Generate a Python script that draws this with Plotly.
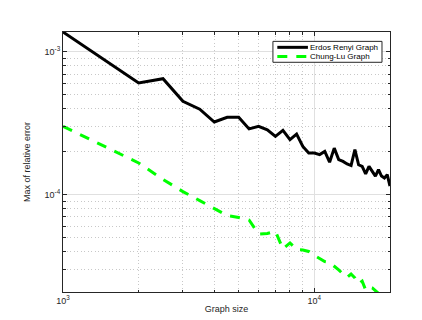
import plotly.graph_objects as go

graph_size = [1000, 2000, 2500, 3000, 3500, 4000, 4500, 5000, 5500, 6000, 6500,
              7000, 7500, 8000, 8500, 9000, 9500, 10000, 10500, 11000, 11500,
              12000, 12500, 13000, 13500, 14000, 14500, 15000, 15500, 16000,
              16500, 17000, 17500, 18000, 18500, 19000, 19500, 20000]

erdos_renyi = [1.38e-3, 6.06e-4, 6.50e-4, 4.51e-4, 3.97e-4, 3.23e-4, 3.49e-4,
               3.49e-4, 2.89e-4, 3.01e-4, 2.85e-4, 2.56e-4, 2.82e-4, 2.43e-4,
               2.66e-4, 2.18e-4, 1.96e-4, 1.96e-4, 1.91e-4, 2.01e-4, 1.69e-4,
               2.12e-4, 1.76e-4, 1.71e-4, 1.64e-4, 1.60e-4, 2.07e-4, 1.62e-4,
               1.58e-4, 1.40e-4, 1.58e-4, 1.47e-4, 1.35e-4, 1.50e-4, 1.35e-4,
               1.31e-4, 1.38e-4, 1.15e-4]

chung_lu = [3.015e-4, 1.668e-4, 1.280e-4, 1.051e-4, 9.08e-5, 8.02e-5, 7.15e-5,
            6.92e-5, 6.65e-5, 5.30e-5, 5.34e-5, 5.54e-5, 4.16e-5, 4.59e-5,
            4.12e-5, 4.10e-5, 4.00e-5, 3.75e-5, 3.56e-5, 3.40e-5, 3.35e-5,
            3.16e-5, 2.97e-5, 2.78e-5, 2.63e-5, 2.78e-5, 2.61e-5, 2.37e-5,
            2.48e-5, 2.15e-5, 2.25e-5, 2.22e-5, 2.11e-5, 2.01e-5, 1.95e-5,
            1.92e-5, 1.85e-5, 1.80e-5]

series_names = ["Erdos Renyi Graph", "Chung-Lu Graph"]
series_colors = ["black", "#00ff00"]

x_tickvals = [1e3, 1e4]
x_ticktext = ["10<sup>3</sup>", "10<sup>4</sup>"]
x_minorvals = [2e3, 3e3, 4e3, 5e3, 6e3, 7e3, 8e3, 9e3, 2e4]
y_tickvals = [1e-3, 1e-4]
y_ticktext = ["10<sup>-3</sup>", "10<sup>-4</sup>"]
y_minorvals = [2e-5, 3e-5, 4e-5, 5e-5, 6e-5, 7e-5, 8e-5, 9e-5,
               2e-4, 3e-4, 4e-4, 5e-4, 6e-4, 7e-4, 8e-4, 9e-4]

FONT = "Liberation Sans, Arial, sans-serif"
AX = "#262626"

fig = go.Figure()
fig.add_trace(go.Scatter(x=graph_size, y=erdos_renyi, mode="lines",
                         name=series_names[0], showlegend=False,
                         line=dict(color=series_colors[0], width=3)))
fig.add_trace(go.Scatter(x=graph_size, y=chung_lu, mode="lines",
                         name=series_names[1], showlegend=False,
                         line=dict(color=series_colors[1], width=3, dash="10px,9px")))

def axis_common(minorvals):
    return dict(showline=True, linecolor=AX, linewidth=1, mirror="allticks",
                ticks="inside", ticklen=4, tickcolor=AX,
                showgrid=True, gridcolor="#e0e0e0", gridwidth=1,
                zeroline=False,
                tickfont=dict(family=FONT, size=9, color=AX),
                minor=dict(tickmode="array", tickvals=minorvals,
                           showgrid=True, gridcolor="#c8c8c8", griddash="1px,2.5px",
                           gridwidth=1, ticks="inside", ticklen=2.5, tickcolor=AX))

fig.update_xaxes(type="log", range=[3, 4.30103], tickvals=x_tickvals,
                 ticktext=x_ticktext,
                 title=dict(text="Graph size", font=dict(family=FONT, size=9, color=AX),
                            standoff=0),
                 **axis_common(x_minorvals))
fig.update_yaxes(type="log", range=[-4.682, -2.86], tickvals=y_tickvals,
                 ticktext=y_ticktext,
                 title=dict(text="Max of relative error",
                            font=dict(family=FONT, size=9, color=AX), standoff=12),
                 **axis_common(y_minorvals))

# legend box drawn in paper coordinates (compact MATLAB-style legend)
lx0, lx1, ly0, ly1 = 0.642, 0.9755, 0.8835, 0.964
line_x0, line_x1 = 0.6554, 0.749
row_y = [0.941, 0.9058]
fig.add_shape(type="rect", xref="paper", yref="paper", x0=lx0, x1=lx1, y0=ly0, y1=ly1,
              line=dict(color=AX, width=1), fillcolor="white", layer="above")
for i, (nm, col) in enumerate(zip(series_names, series_colors)):
    fig.add_shape(type="line", xref="paper", yref="paper", x0=line_x0, x1=line_x1,
                  y0=row_y[i], y1=row_y[i], layer="above",
                  line=dict(color=col, width=3, dash="solid" if i == 0 else "10px,9px"))
    fig.add_annotation(x=line_x1, y=row_y[i], xref="paper", yref="paper",
                       text=nm, showarrow=False, xanchor="left", yanchor="middle",
                       xshift=0, font=dict(family=FONT, size=8, color="black"))

fig.update_layout(
    width=422, height=320,
    margin=dict(l=55, r=40, t=24, b=36),
    paper_bgcolor="white", plot_bgcolor="white",
    font=dict(family=FONT, size=9, color=AX),
    showlegend=False,
)

fig.write_html("out.html")
